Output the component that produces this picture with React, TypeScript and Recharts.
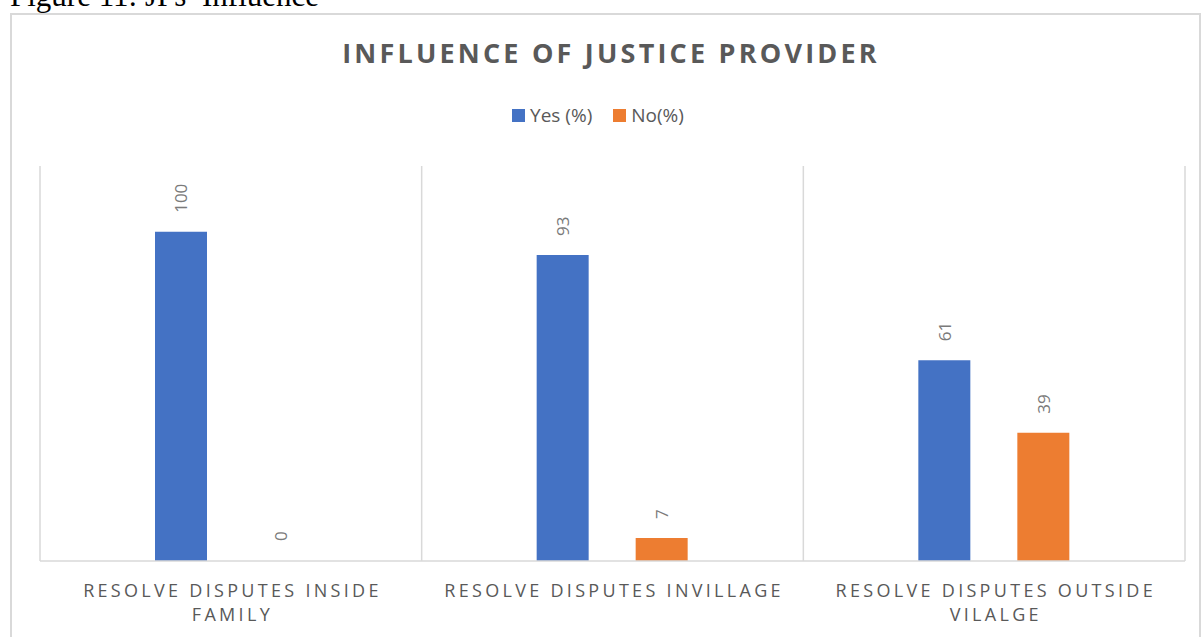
import { Bar, BarChart, CartesianGrid, Rectangle, XAxis, YAxis } from "recharts"

// categories and series
const categories = [
  "RESOLVE DISPUTES INSIDE FAMILY",
  "RESOLVE DISPUTES INVILLAGE",
  "RESOLVE DISPUTES OUTSIDE VILALGE",
]
const yesValues = [100, 93, 61]
const noValues = [0, 7, 39]
const seriesNames = ["Yes (%)", "No(%)"]
const colors = ["#4472C4", "#ED7D31"]

const data = categories.map((name, i) => ({
  name,
  idx: i + 0.5,
  yes: yesValues[i],
  no: noValues[i],
}))

const FONT = "'Open Sans', 'Noto Sans', sans-serif"
const TEXT = "#595959"

// greedy word wrap, Excel-style
function wrap(label: string, max = 26) {
  const lines: string[] = []
  let cur = ""
  for (const w of label.split(" ")) {
    const next = cur ? cur + " " + w : w
    if (next.length > max && cur) {
      lines.push(cur)
      cur = w
    } else cur = next
  }
  if (cur) lines.push(cur)
  return lines
}

function CategoryTick(props: any) {
  const { x, y, payload } = props
  const lines = wrap(payload.value)
  return (
    <g>
      {lines.map((ln, i) => (
        <text
          key={i}
          x={x + 1.6}
          y={y + 28.5 + i * 24}
          textAnchor="middle"
          dominantBaseline="central"
          fill={TEXT}
          fontSize={18}
          fontFamily={FONT}
          letterSpacing={3.3}
        >
          {ln}
        </text>
      ))}
    </g>
  )
}

function ValueLabel(props: any) {
  const { x, y, width, value } = props
  if (x == null || y == null) return null
  const cx = x + width / 2
  const ty = y - 19
  return (
    <text
      x={cx}
      y={ty}
      transform={`rotate(-90 ${cx} ${ty})`}
      textAnchor="start"
      dominantBaseline="central"
      fill="#7a7a7a"
      fontSize={17}
      fontFamily={FONT}
    >
      {String(value)}
    </text>
  )
}

// zero values get a 1px placeholder (so the label still shows) but no visible bar
function BarShape(props: any) {
  const v = Array.isArray(props.value) ? props.value[1] - props.value[0] : props.value
  if (!v) return <g />
  return <Rectangle {...props} />
}

function LegendBox() {
  return (
    <div
      style={{
        position: "absolute",
        top: 103,
        left: 0,
        width: 1202,
        display: "flex",
        justifyContent: "center",
        alignItems: "center",
        fontFamily: FONT,
        fontSize: 19,
        color: TEXT,
        lineHeight: "24px",
      }}
    >
      {seriesNames.map((n, i) => (
        <div key={n} style={{ display: "flex", alignItems: "center", marginRight: i === 0 ? 21 : 6 }}>
          <span style={{ width: 13, height: 13, background: colors[i], marginRight: 5 }} />
          <span>{n}</span>
        </div>
      ))}
    </div>
  )
}

export default function App() {
  return (
    <div style={{ position: "absolute", left: 0, top: 0, width: 1202, height: 637, overflow: "hidden", background: "#fff" }}>
      <div
        style={{
          position: "absolute",
          left: 10,
          top: -21,
          fontFamily: "'Liberation Serif', 'Times New Roman', serif",
          fontSize: 31,
          lineHeight: "34px",
          color: "#000",
          whiteSpace: "nowrap",
        }}
      >
        Figure 11: JPs’ Influence
      </div>
      <div
        style={{
          position: "absolute",
          left: 10,
          top: 13,
          width: 1191,
          height: 640,
          border: "2px solid #d9d9d9",
          boxSizing: "border-box",
        }}
      />
      <div
        style={{
          position: "absolute",
          top: 37,
          left: 10,
          width: 1202,
          textAlign: "center",
          fontFamily: FONT,
          fontSize: 27,
          fontWeight: 700,
          letterSpacing: 3.2,
          color: TEXT,
          lineHeight: "32px",
        }}
      >
        INFLUENCE OF JUSTICE PROVIDER
      </div>
      <LegendBox />
      <div style={{ position: "absolute", left: 0, top: 0 }}>
        <BarChart
          width={1202}
          height={637}
          data={data}
          margin={{ top: 166, right: 17, left: 40, bottom: 0 }}
          barCategoryGap="30%"
          barGap={47}
          barSize={52}
        >
          <CartesianGrid xAxisId="grid" horizontal={false} stroke="#d9d9d9" strokeWidth={1.5} />
          <XAxis
            dataKey="name"
            height={76}
            axisLine={{ stroke: "#d9d9d9", strokeWidth: 1.5 }}
            tickLine={false}
            tickSize={0}
            tickMargin={0}
            interval={0}
            tick={<CategoryTick />}
          />
          <XAxis xAxisId="grid" type="number" dataKey="idx" domain={[0, 3]} ticks={[0, 1, 2, 3]} hide />
          <YAxis hide domain={[0, 120]} />
          <Bar
            dataKey="yes"
            name={seriesNames[0]}
            fill={colors[0]}
            isAnimationActive={false}
            minPointSize={1}
            shape={(p: any) => <BarShape {...p} />}
            label={(p: any) => <ValueLabel {...p} />}
          />
          <Bar
            dataKey="no"
            name={seriesNames[1]}
            fill={colors[1]}
            isAnimationActive={false}
            minPointSize={1}
            shape={(p: any) => <BarShape {...p} />}
            label={(p: any) => <ValueLabel {...p} />}
          />
        </BarChart>
      </div>
    </div>
  )
}
